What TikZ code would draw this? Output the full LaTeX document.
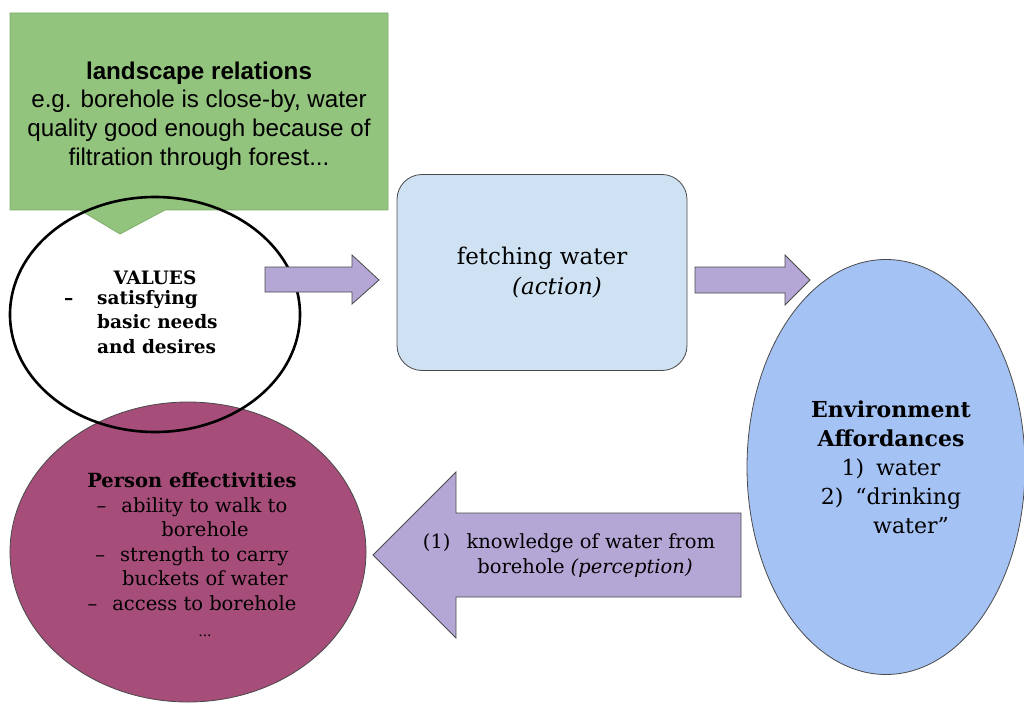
\documentclass[tikz,border=0pt]{standalone}
\usepackage{fontspec}
\setmainfont{DejaVu Serif}
\newfontfamily\arialfont{Liberation Sans}
\usetikzlibrary{shapes.geometric}
\definecolor{greenfill}{HTML}{93C47D}
\definecolor{greenline}{HTML}{7FAE6A}
\definecolor{arrowfill}{HTML}{B4A7D6}
\definecolor{boxfill}{HTML}{CFE2F3}
\definecolor{envfill}{HTML}{A4C2F4}
\definecolor{personfill}{HTML}{A64D79}
\definecolor{edgegray}{HTML}{4A4A4A}
\begin{document}
\begin{tikzpicture}[x=1pt,y=-1pt,
  blockarrow/.style={fill=arrowfill,draw=edgegray,line width=0.8pt,line join=miter},
  callout/.style={fill=greenfill,draw=greenline,line width=0.8pt},
  fetchbox/.style={rectangle,rounded corners=25pt,fill=boxfill,draw=edgegray,line width=0.8pt,
    minimum width=290pt,minimum height=196pt,inner sep=0pt,align=center,
    font=\fontsize{23}{30}\selectfont},
  envell/.style={ellipse,fill=envfill,draw=edgegray,line width=0.8pt,minimum width=278pt,minimum height=415pt,inner sep=0pt},
  personell/.style={ellipse,fill=personfill,draw=edgegray,line width=0.8pt,minimum width=356pt,minimum height=300pt,inner sep=0pt},
  valuesell/.style={ellipse,draw=black,line width=2.6pt,minimum width=290pt,minimum height=235pt,inner sep=0pt},
  txt/.style={inner sep=0pt,align=center}
]
\useasboundingbox (0,0) rectangle (1024,703);
\fill[white] (0,0) rectangle (1024,703);

% green callout
\draw[callout] (10,13) -- (388,13) -- (388,210) -- (165,210) -- (120,234) -- (80,210) -- (10,210) -- cycle;
\node[txt,font=\arialfont\fontsize{24.2}{28.8}\selectfont] (land) at (199,116)
  {\textbf{landscape relations}\\e.g. borehole is close-by, water\\quality good enough because of\\filtration through forest...};

% person ellipse
\node[personell] (pe) at (188,552) {};
\node[txt,font=\fontsize{19.5}{24.5}\selectfont] (petext) at (192,555)
  {\textbf{Person effectivities}\\
   –\hspace{15pt}ability to walk to\\
   \hspace*{26pt}borehole\\
   –\hspace{15pt}strength to carry\\
   \hspace*{26pt}buckets of water\\
   –\hspace{15pt}access to borehole\\[2pt]
   \hspace*{26pt}\fontsize{14}{16}\selectfont...};

% values ellipse (outline only)
\node[valuesell] (val) at (155,314.5) {};
\node[txt,font=\bfseries\fontsize{18.5}{24.5}\selectfont] (valtitle) at (155,278) {VALUES};
\node[inner sep=0pt,anchor=north west,align=left,font=\bfseries\fontsize{18.5}{24.5}\selectfont] (vallist) at (64,290)
  {\makebox[33pt][l]{–}satisfying\\\hspace*{33pt}basic needs\\\hspace*{33pt}and desires};

% fetching water
\node[fetchbox] (fw) at (542,272.5) {fetching water\\\hspace*{30pt}\textit{(action)}};

% environment ellipse
\node[envell] (env) at (886,467) {};
\node[txt,font=\fontsize{22}{29}\selectfont] (envtext) at (891,467)
  {\textbf{Environment}\\\textbf{Affordances}\\1)\hspace{12pt}water\\2)\hspace{12pt}“drinking\\\hspace*{40pt}water”};

% arrows
\coordinate (a1) at (265,267);
\draw[blockarrow] (a1) -- (352,267) -- (352,255) -- (379,280) -- (352,304) -- (352,292) -- (265,292) -- cycle;
\coordinate (a2) at (695,267);
\draw[blockarrow] (a2) -- (785,267) -- (785,255) -- (810,280) -- (785,305) -- (785,293) -- (695,293) -- cycle;
\coordinate (a3) at (373,555);
\draw[blockarrow] (a3) -- (456,472) -- (456,513) -- (741,513) -- (741,597) -- (456,597) -- (456,638) -- cycle;
\node[txt,font=\fontsize{19.5}{25}\selectfont] (perc) at (569,556)
  {(1)\hspace{16pt}knowledge of water from\\\hspace*{32pt}borehole \textit{(perception)}};
\end{tikzpicture}
\end{document}
